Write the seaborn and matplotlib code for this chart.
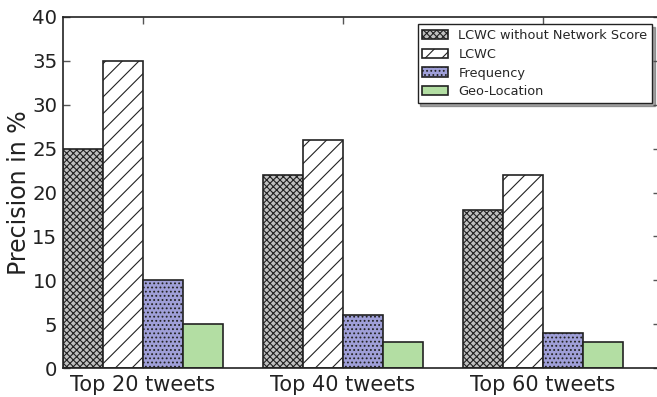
import matplotlib
matplotlib.use("Agg")
import matplotlib.pyplot as plt
import seaborn as sns
import pandas as pd

groups = ["Top 20 tweets", "Top 40 tweets", "Top 60 tweets"]
methods = ["LCWC without Network Score", "LCWC", "Frequency", "Geo-Location"]
lcwc_no_net = [25, 22, 18]
lcwc = [35, 26, 22]
frequency = [10, 6, 4]
geo_location = [5, 3, 3]

colors = ["#c0c0c0", "#ffffff", "#9f9fd8", "#b3dea3"]
hatches = ["xxxxx", "//", "....", ""]

rows = []
for m, vals in zip(methods, [lcwc_no_net, lcwc, frequency, geo_location]):
    for g, v in zip(groups, vals):
        rows.append({"group": g, "method": m, "value": v})
df = pd.DataFrame(rows)

sns.set_style("white")
plt.rcParams["font.family"] = ["DejaVu Sans"]
plt.rcParams["hatch.linewidth"] = 0.8

fig = plt.figure(figsize=(6.57, 3.97), dpi=100)
ax = fig.add_axes([63 / 657, 1 - 368 / 397, (660 - 63) / 657, (368 - 17) / 397])

sns.barplot(data=df, x="group", y="value", hue="method", order=groups,
            hue_order=methods, palette=colors, width=0.8, ax=ax,
            edgecolor="#222222", linewidth=1.2, saturation=1, legend=True)

for i, cont in enumerate(ax.containers):
    for bar in cont:
        bar.set_hatch(hatches[i])
        bar.set_edgecolor("#222222")

ax.set_xlim(-0.4, 2.585)
ax.set_ylim(0, 40)
ax.set_yticks(range(0, 41, 5))
ax.set_xlabel("")
ax.set_ylabel("Precision in %", fontsize=17, color="#222222", labelpad=1)
ax.tick_params(axis="both", direction="in", length=5, width=1, color="#555555",
               labelsize=14.2, top=True, right=True, left=True, bottom=True,
               labelcolor="#222222")
ax.tick_params(axis="x", pad=5, labelsize=15)
ax.tick_params(axis="y", pad=4)
for s in ax.spines.values():
    s.set_visible(True)
    s.set_color("#222222")
    s.set_linewidth(1.2)

handles, labels = ax.get_legend_handles_labels()
for h, hat in zip(handles, hatches):
    h.set_hatch(hat)
leg = ax.legend(handles, labels, loc="upper right", bbox_to_anchor=(0.993, 0.99),
                fontsize=9.3, frameon=True, fancybox=False, shadow=True,
                borderaxespad=0.3, borderpad=0.35, handlelength=2.0,
                handletextpad=0.8, labelspacing=0.45)
leg.get_frame().set_edgecolor("#222222")
leg.get_frame().set_linewidth(1.0)

fig.savefig("out.png", dpi=100)
